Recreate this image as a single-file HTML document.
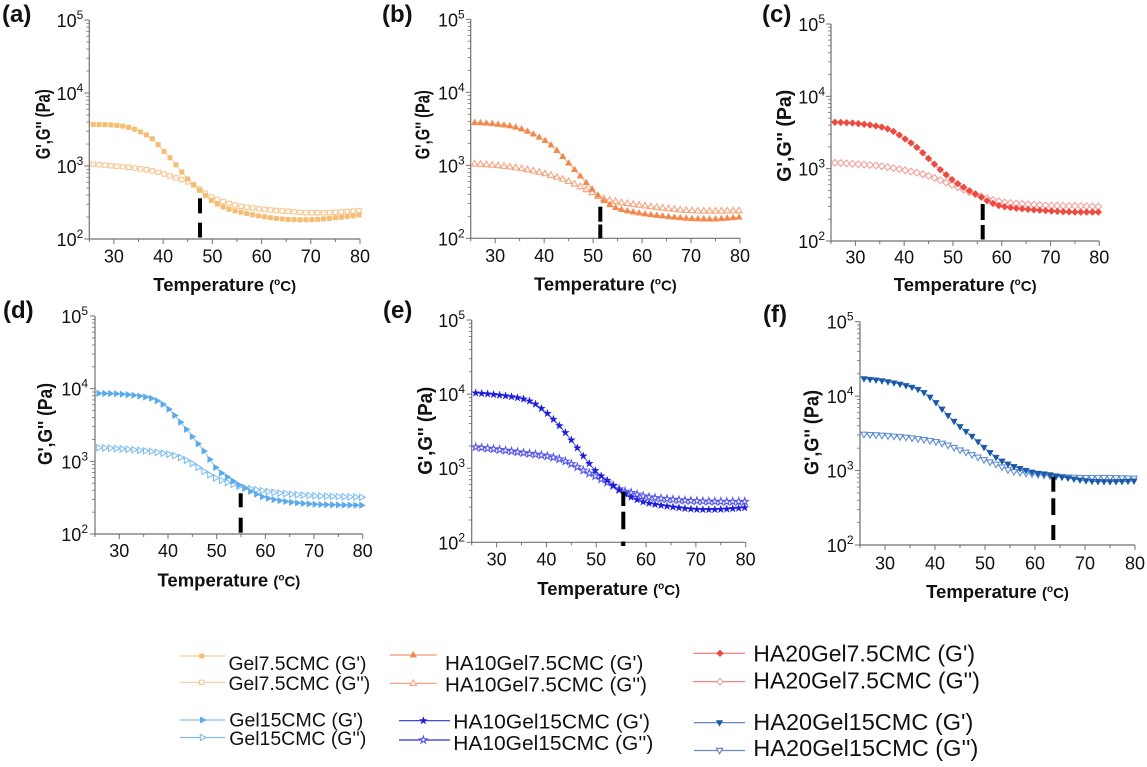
<!DOCTYPE html>
<html><head><meta charset="utf-8">
<style>
html,body{margin:0;padding:0;background:#fff;}
svg{display:block;}
text{font-family:"Liberation Sans",Arial,sans-serif;fill:#111;}
.t{font-size:18px;}
.b{font-weight:bold;}
</style></head>
<body>
<svg id="s" width="1147" height="767" viewBox="0 0 1147 767" xmlns="http://www.w3.org/2000/svg">
<rect width="1147" height="767" fill="#fff"/>
<g id="plots"></g>

<!-- panel labels -->
<text class="b" x="2" y="22" font-size="24">(a)</text>
<text class="b" x="382" y="22" font-size="24">(b)</text>
<text class="b" x="762" y="22" font-size="24">(c)</text>
<text class="b" x="3" y="318" font-size="24">(d)</text>
<text class="b" x="383" y="318" font-size="24">(e)</text>
<text class="b" x="763" y="322" font-size="24">(f)</text>

<!-- Panel a -->
<g class="t">
<text x="83.3" y="27" text-anchor="end">10<tspan font-size="12" dy="-8">5</tspan></text>
<text x="83.3" y="100" text-anchor="end">10<tspan font-size="12" dy="-8">4</tspan></text>
<text x="83.3" y="173" text-anchor="end">10<tspan font-size="12" dy="-8">3</tspan></text>
<text x="83.3" y="246" text-anchor="end">10<tspan font-size="12" dy="-8">2</tspan></text>
<text x="113.9" y="262.5" text-anchor="middle">30</text>
<text x="163.1" y="262.5" text-anchor="middle">40</text>
<text x="212.4" y="262.5" text-anchor="middle">50</text>
<text x="261.6" y="262.5" text-anchor="middle">60</text>
<text x="310.8" y="262.5" text-anchor="middle">70</text>
<text x="360" y="262.5" text-anchor="middle">80</text>
</g>
<text class="b" x="224.7" y="291" text-anchor="middle" font-size="18.5">Temperature <tspan font-size="15">(</tspan><tspan font-size="10" dy="-6">o</tspan><tspan font-size="15" dy="6">C)</tspan></text>
<text class="b" transform="translate(50,124.3) rotate(-90)" text-anchor="middle" font-size="20" textLength="70" lengthAdjust="spacingAndGlyphs">G',G'' (Pa)</text>

<!-- Panel b -->
<g class="t">
<text x="464.7" y="26.3" text-anchor="end">10<tspan font-size="12" dy="-8">5</tspan></text>
<text x="464.7" y="99.3" text-anchor="end">10<tspan font-size="12" dy="-8">4</tspan></text>
<text x="464.7" y="172.3" text-anchor="end">10<tspan font-size="12" dy="-8">3</tspan></text>
<text x="464.7" y="245.3" text-anchor="end">10<tspan font-size="12" dy="-8">2</tspan></text>
<text x="495.2" y="261.8" text-anchor="middle">30</text>
<text x="544.1" y="261.8" text-anchor="middle">40</text>
<text x="593.1" y="261.8" text-anchor="middle">50</text>
<text x="642.1" y="261.8" text-anchor="middle">60</text>
<text x="691" y="261.8" text-anchor="middle">70</text>
<text x="740" y="261.8" text-anchor="middle">80</text>
</g>
<text class="b" x="605.4" y="290.3" text-anchor="middle" font-size="18.5">Temperature <tspan font-size="15">(</tspan><tspan font-size="10" dy="-6">o</tspan><tspan font-size="15" dy="6">C)</tspan></text>
<text class="b" transform="translate(429.3,124.7) rotate(-90)" text-anchor="middle" font-size="20" textLength="69" lengthAdjust="spacingAndGlyphs">G',G'' (Pa)</text>

<!-- Panel c -->
<g class="t">
<text x="825" y="31" text-anchor="end">10<tspan font-size="12" dy="-8">5</tspan></text>
<text x="825" y="103.3" text-anchor="end">10<tspan font-size="12" dy="-8">4</tspan></text>
<text x="825" y="175.7" text-anchor="end">10<tspan font-size="12" dy="-8">3</tspan></text>
<text x="825" y="248" text-anchor="end">10<tspan font-size="12" dy="-8">2</tspan></text>
<text x="855.4" y="263.5" text-anchor="middle">30</text>
<text x="904.2" y="263.5" text-anchor="middle">40</text>
<text x="953" y="263.5" text-anchor="middle">50</text>
<text x="1001.7" y="263.5" text-anchor="middle">60</text>
<text x="1050.5" y="263.5" text-anchor="middle">70</text>
<text x="1099.3" y="263.5" text-anchor="middle">80</text>
</g>
<text class="b" x="965.2" y="291" text-anchor="middle" font-size="18.5">Temperature <tspan font-size="15">(</tspan><tspan font-size="10" dy="-6">o</tspan><tspan font-size="15" dy="6">C)</tspan></text>
<text class="b" transform="translate(791,135.8) rotate(-90)" text-anchor="middle" font-size="20" textLength="92" lengthAdjust="spacingAndGlyphs">G',G'' (Pa)</text>

<!-- Panel d -->
<g class="t">
<text x="88" y="323" text-anchor="end">10<tspan font-size="12" dy="-8">5</tspan></text>
<text x="88" y="395.7" text-anchor="end">10<tspan font-size="12" dy="-8">4</tspan></text>
<text x="88" y="468.3" text-anchor="end">10<tspan font-size="12" dy="-8">3</tspan></text>
<text x="88" y="541" text-anchor="end">10<tspan font-size="12" dy="-8">2</tspan></text>
<text x="119.3" y="557" text-anchor="middle">30</text>
<text x="168" y="557" text-anchor="middle">40</text>
<text x="216.7" y="557" text-anchor="middle">50</text>
<text x="265.4" y="557" text-anchor="middle">60</text>
<text x="314" y="557" text-anchor="middle">70</text>
<text x="362.7" y="557" text-anchor="middle">80</text>
</g>
<text class="b" x="228.9" y="586.5" text-anchor="middle" font-size="18.5">Temperature <tspan font-size="15">(</tspan><tspan font-size="10" dy="-6">o</tspan><tspan font-size="15" dy="6">C)</tspan></text>
<text class="b" transform="translate(52,424) rotate(-90)" text-anchor="middle" font-size="20" textLength="82" lengthAdjust="spacingAndGlyphs">G',G'' (Pa)</text>

<!-- Panel e -->
<g class="t">
<text x="465" y="327" text-anchor="end">10<tspan font-size="12" dy="-8">5</tspan></text>
<text x="465" y="401.1" text-anchor="end">10<tspan font-size="12" dy="-8">4</tspan></text>
<text x="465" y="475.2" text-anchor="end">10<tspan font-size="12" dy="-8">3</tspan></text>
<text x="465" y="549.3" text-anchor="end">10<tspan font-size="12" dy="-8">2</tspan></text>
<text x="496.6" y="565.3" text-anchor="middle">30</text>
<text x="546.4" y="565.3" text-anchor="middle">40</text>
<text x="596.2" y="565.3" text-anchor="middle">50</text>
<text x="646" y="565.3" text-anchor="middle">60</text>
<text x="695.9" y="565.3" text-anchor="middle">70</text>
<text x="745.7" y="565.3" text-anchor="middle">80</text>
</g>
<text class="b" x="608.7" y="595" text-anchor="middle" font-size="18.5">Temperature <tspan font-size="15">(</tspan><tspan font-size="10" dy="-6">o</tspan><tspan font-size="15" dy="6">C)</tspan></text>
<text class="b" transform="translate(432,430.8) rotate(-90)" text-anchor="middle" font-size="20" textLength="88" lengthAdjust="spacingAndGlyphs">G',G'' (Pa)</text>

<!-- Panel f -->
<g class="t">
<text x="853.5" y="328.7" text-anchor="end">10<tspan font-size="12" dy="-8">5</tspan></text>
<text x="853.5" y="403.1" text-anchor="end">10<tspan font-size="12" dy="-8">4</tspan></text>
<text x="853.5" y="477.6" text-anchor="end">10<tspan font-size="12" dy="-8">3</tspan></text>
<text x="853.5" y="552" text-anchor="end">10<tspan font-size="12" dy="-8">2</tspan></text>
<text x="885" y="569.5" text-anchor="middle">30</text>
<text x="935" y="569.5" text-anchor="middle">40</text>
<text x="985" y="569.5" text-anchor="middle">50</text>
<text x="1035" y="569.5" text-anchor="middle">60</text>
<text x="1085" y="569.5" text-anchor="middle">70</text>
<text x="1135" y="569.5" text-anchor="middle">80</text>
</g>
<text class="b" x="997.5" y="598" text-anchor="middle" font-size="18.5">Temperature <tspan font-size="15">(</tspan><tspan font-size="10" dy="-6">o</tspan><tspan font-size="15" dy="6">C)</tspan></text>
<text class="b" transform="translate(818.7,432.5) rotate(-90)" text-anchor="middle" font-size="20" textLength="85" lengthAdjust="spacingAndGlyphs">G',G'' (Pa)</text>

<!-- Legend text -->
<text x="228.5" y="670" font-size="19" textLength="138" lengthAdjust="spacingAndGlyphs">Gel7.5CMC (G')</text>
<text x="228.5" y="690" font-size="19" textLength="141.7" lengthAdjust="spacingAndGlyphs">Gel7.5CMC (G'')</text>
<text x="229.3" y="726.7" font-size="19" textLength="134" lengthAdjust="spacingAndGlyphs">Gel15CMC (G')</text>
<text x="229.3" y="745" font-size="19" textLength="137" lengthAdjust="spacingAndGlyphs">Gel15CMC (G'')</text>

<text x="445" y="670" font-size="20.5" textLength="198.3" lengthAdjust="spacingAndGlyphs">HA10Gel7.5CMC (G')</text>
<text x="445" y="691.7" font-size="20.5" textLength="202" lengthAdjust="spacingAndGlyphs">HA10Gel7.5CMC (G'')</text>
<text x="453.3" y="728.3" font-size="20.5" textLength="196.7" lengthAdjust="spacingAndGlyphs">HA10Gel15CMC (G')</text>
<text x="453.3" y="750" font-size="20.5" textLength="200" lengthAdjust="spacingAndGlyphs">HA10Gel15CMC (G'')</text>

<text x="753.3" y="661.7" font-size="23" textLength="221.7" lengthAdjust="spacingAndGlyphs">HA20Gel7.5CMC (G')</text>
<text x="753.3" y="688.3" font-size="23" textLength="226.7" lengthAdjust="spacingAndGlyphs">HA20Gel7.5CMC (G'')</text>
<text x="753.3" y="730" font-size="23" textLength="220" lengthAdjust="spacingAndGlyphs">HA20Gel15CMC (G')</text>
<text x="753.3" y="756" font-size="23" textLength="225" lengthAdjust="spacingAndGlyphs">HA20Gel15CMC (G'')</text>
</svg>
<script>
(function(){
var NS="http://www.w3.org/2000/svg";
var G=document.getElementById("plots");
function el(tag,attrs){var e=document.createElementNS(NS,tag);for(var k in attrs)e.setAttribute(k,attrs[k]);G.appendChild(e);return e;}
function interp(p,t){
  var n=p.length;
  if(t<=p[0][0])return p[0][1];
  if(t>=p[n-1][0])return p[n-1][1];
  var i=0;while(p[i+1][0]<t)i++;
  function m(k){
    if(k<=0)return (p[1][1]-p[0][1])/(p[1][0]-p[0][0]);
    if(k>=n-1)return (p[n-1][1]-p[n-2][1])/(p[n-1][0]-p[n-2][0]);
    return (p[k+1][1]-p[k-1][1])/(p[k+1][0]-p[k-1][0]);
  }
  var x0=p[i][0],y0=p[i][1],x1=p[i+1][0],y1=p[i+1][1],h=x1-x0,s=(t-x0)/h;
  var h00=2*s*s*s-3*s*s+1,h10=s*s*s-2*s*s+s,h01=-2*s*s*s+3*s*s,h11=s*s*s-s*s;
  return h00*y0+h10*h*m(i)+h01*y1+h11*h*m(i+1);
}
function shape(mk,x,y,s){
  var pts;
  switch(mk){
    case 'sq':pts=[[x-s,y-s],[x+s,y-s],[x+s,y+s],[x-s,y+s]];break;
    case 'tu':pts=[[x,y-s*1.2],[x+s*1.1,y+s*0.75],[x-s*1.1,y+s*0.75]];break;
    case 'td':pts=[[x,y+s*1.2],[x+s*1.1,y-s*0.75],[x-s*1.1,y-s*0.75]];break;
    case 'tr':pts=[[x+s*1.2,y],[x-s*0.75,y-s*1.1],[x-s*0.75,y+s*1.1]];break;
    case 'di':pts=[[x,y-s*1.25],[x+s*1.25,y],[x,y+s*1.25],[x-s*1.25,y]];break;
    case 'st':pts=[];for(var i=0;i<10;i++){var a=-Math.PI/2+i*Math.PI/5;var r=(i%2)?s*0.5:s*1.3;pts.push([x+r*Math.cos(a),y+r*Math.sin(a)]);}break;
  }
  return pts.map(function(q){return q[0].toFixed(2)+","+q[1].toFixed(2);}).join(" ");
}
var sizes={sq:2.3,tu:3.0,td:3.0,tr:3.0,di:2.8,st:3.1};
function marker(mk,x,y,filled,col){
  var s=sizes[mk];
  if(filled) el("polygon",{points:shape(mk,x,y,s),fill:col,stroke:col,"stroke-width":0.4});
  else el("polygon",{points:shape(mk,x,y,s*0.95),fill:"#fff",stroke:col,"stroke-width":1.1});
}
var P=[
{X0:89.3,X1:360,YT:20,YB:239,m:'sq',c1:'#F5BD72',c2:'#F7C690',dx:200,dash:[[198.3,213.3],[222.7,237.5]],
 g1:[[25,3.57],[30,3.56],[33,3.53],[35,3.48],[37,3.41],[38.2,3.35],[39.4,3.26],[40.7,3.16],[42,3.07],[43.1,2.97],[44.3,2.88],[45.5,2.785],[46.7,2.71],[48,2.63],[50,2.52],[52.5,2.43],[55,2.38],[60,2.31],[65,2.27],[70,2.265],[75,2.29],[80,2.33]],
 g2:[[25,3.03],[30,3.0],[35,2.965],[38.7,2.92],[42,2.85],[45.5,2.77],[47.5,2.68],[50,2.57],[55,2.46],[60,2.41],[65,2.38],[70,2.36],[75,2.365],[80,2.39]]},
{X0:470.7,X1:740,YT:19.3,YB:238.3,m:'tu',c1:'#F2884C',c2:'#F5A37C',dx:600.3,dash:[[206.7,221.7],[224.5,238.3]],
 g1:[[25,3.59],[30,3.566],[35,3.507],[40,3.347],[42.5,3.21],[45,3.03],[47.5,2.845],[50,2.66],[52.5,2.50],[55,2.41],[60,2.34],[65,2.30],[70,2.27],[75,2.265],[80,2.29]],
 g2:[[25,3.025],[30,3.0],[35,2.96],[40,2.89],[45,2.78],[50,2.62],[51.5,2.56],[55,2.50],[60,2.45],[65,2.41],[70,2.38],[75,2.375],[80,2.38]]},
{X0:831,X1:1099.3,YT:24,YB:241,m:'di',c1:'#EF4A40',c2:'#F4A09C',dx:982.7,dash:[[204,220],[225,239.5]],
 g1:[[25,3.645],[30,3.627],[35,3.58],[37.5,3.525],[40,3.42],[42.5,3.30],[45,3.14],[47.5,2.98],[50,2.84],[52.5,2.73],[55,2.636],[57.5,2.54],[60,2.48],[65,2.44],[70,2.415],[75,2.40],[80,2.40]],
 g2:[[25,3.085],[30,3.064],[35,3.037],[40,2.98],[45,2.90],[50,2.77],[55,2.636],[60,2.54],[65,2.51],[70,2.49],[75,2.485],[80,2.475]]},
{X0:95,X1:362.7,YT:316,YB:534,m:'tr',c1:'#5BAAEB',c2:'#80BEF0',dx:240.7,dash:[[493.3,507.3],[517.7,532.7]],
 g1:[[25,3.937],[30,3.927],[35,3.89],[37.5,3.844],[40,3.73],[42.5,3.546],[45,3.34],[47.5,3.133],[50,2.90],[52.5,2.77],[55,2.66],[57.5,2.57],[60,2.50],[65,2.44],[70,2.41],[75,2.40],[80,2.395]],
 g2:[[25,3.19],[30,3.174],[35,3.147],[40,3.10],[42.5,3.055],[45,2.97],[47.5,2.858],[50,2.766],[55,2.65],[60,2.59],[65,2.55],[70,2.527],[75,2.515],[80,2.505]]},
{X0:471.7,X1:745.7,YT:320,YB:542.3,m:'st',c1:'#1C1CDC',c2:'#5858E6',dx:623.3,dash:[[491.7,506],[511.7,529.3],[541.5,546]],
 g1:[[25,4.02],[30,3.99],[35,3.94],[37.5,3.876],[40,3.75],[42.5,3.58],[45,3.38],[47.5,3.156],[50,2.954],[52.5,2.82],[55,2.684],[57.5,2.594],[60,2.535],[65,2.48],[70,2.445],[75,2.445],[80,2.468]],
 g2:[[25,3.29],[30,3.255],[35,3.21],[40,3.165],[42.5,3.125],[45,3.057],[47.5,2.967],[50,2.886],[52.5,2.796],[55,2.706],[57.5,2.66],[60,2.616],[65,2.58],[70,2.558],[75,2.55],[80,2.55]]},
{X0:860,X1:1135,YT:321.7,YB:545,m:'td',c1:'#1A58AA',c2:'#6090D0',dx:1053.3,dash:[[476.7,491.7],[498.3,515],[525,540]],
 g1:[[25,4.24],[30,4.20],[35,4.127],[37.5,4.06],[40,3.926],[42.5,3.746],[45,3.59],[47.5,3.455],[50,3.30],[52.5,3.164],[55,3.075],[57.5,3.017],[60,2.97],[62.5,2.95],[65,2.918],[70,2.864],[75,2.85],[80,2.86]],
 g2:[[25,3.49],[30,3.47],[35,3.44],[40,3.39],[42.5,3.343],[45,3.276],[47.5,3.21],[50,3.14],[52.5,3.075],[55,3.0],[57.5,2.97],[60,2.95],[65,2.918],[70,2.905],[75,2.905],[80,2.896]]}
];
P.forEach(function(p){
  function X(t){return p.X0+(t-25)/55*(p.X1-p.X0);}
  function Y(l){return p.YB-(l-2)/3*(p.YB-p.YT);}
  var ax="#707070";
  el("line",{x1:p.X0,y1:p.YT,x2:p.X0,y2:p.YB,stroke:ax,"stroke-width":1.2});
  el("line",{x1:p.X0-0.6,y1:p.YB,x2:p.X1,y2:p.YB,stroke:ax,"stroke-width":1.2});
  for(var n=2;n<=5;n++){var y=Y(n);el("line",{x1:p.X0-5,y1:y,x2:p.X0,y2:y,stroke:ax,"stroke-width":1});}
  for(var n2=2;n2<5;n2++)for(var k=2;k<=9;k++){var yy=Y(n2+Math.log10(k));el("line",{x1:p.X0-3,y1:yy,x2:p.X0,y2:yy,stroke:ax,"stroke-width":0.8});}
  for(var t=25;t<=80;t+=5){var x=X(t);var L=(t%10==0)?5:3;el("line",{x1:x,y1:p.YB,x2:x,y2:p.YB+L,stroke:ax,"stroke-width":1});}
  var T=[];for(var tt=25.8;tt<=80.01;tt+=1.2)T.push(tt);
  var pts1=T.map(function(t){return [X(t),Y(interp(p.g1,t))];});
  var pts2=T.map(function(t){return [X(t),Y(interp(p.g2,t))];});
  function pl(a){return a.map(function(q){return q[0].toFixed(2)+","+q[1].toFixed(2);}).join(" ");}
  el("polyline",{points:pl(pts2),fill:"none",stroke:p.c2,"stroke-width":0.7});
  el("polyline",{points:pl(pts1),fill:"none",stroke:p.c1,"stroke-width":0.7});
  pts2.forEach(function(q){marker(p.m,q[0],q[1],false,p.c2);});
  pts1.forEach(function(q){marker(p.m,q[0],q[1],true,p.c1);});
  p.dash.forEach(function(d){el("rect",{x:p.dx-2,y:d[0],width:4,height:d[1]-d[0],fill:"#000"});});
});
// legend
var LG=[
 {x1:180,x2:225,mx:201.7,y:656,lc:'#F8CA9C',m:'sq',c:'#F5BD72',f:true},
 {x1:180,x2:225,mx:201.7,y:682.3,lc:'#F8CA9C',m:'sq',c:'#F7C690',f:false},
 {x1:180,x2:225,mx:202.5,y:720,lc:'#86BCEC',m:'tr',c:'#5BAAEB',f:true},
 {x1:180,x2:225,mx:202.5,y:737.5,lc:'#86BCEC',m:'tr',c:'#80BEF0',f:false},
 {x1:390,x2:436.7,mx:413.3,y:655,lc:'#F39A76',m:'tu',c:'#F2884C',f:true},
 {x1:390,x2:436.7,mx:413.3,y:683.3,lc:'#F39A76',m:'tu',c:'#F5A37C',f:false},
 {x1:399,x2:450,mx:423.3,y:720.7,lc:'#3030D8',m:'st',c:'#1C1CDC',f:true},
 {x1:399,x2:450,mx:423.3,y:740,lc:'#3030D8',m:'st',c:'#5858E6',f:false},
 {x1:693.3,x2:745,mx:720,y:653.3,lc:'#F27272',m:'di',c:'#EF4A40',f:true},
 {x1:693.3,x2:745,mx:720,y:681.7,lc:'#F27272',m:'di',c:'#F4A09C',f:false},
 {x1:694,x2:745,mx:719.5,y:722.7,lc:'#5078B8',m:'td',c:'#1A58AA',f:true},
 {x1:694,x2:745,mx:719.5,y:750.5,lc:'#6A88BE',m:'td',c:'#6080C0',f:false}
];
LG.forEach(function(l){
  el("line",{x1:l.x1,y1:l.y,x2:l.x2,y2:l.y,stroke:l.lc,"stroke-width":1.2});
  marker(l.m,l.mx,l.y,l.f,l.c);
});
})();
</script>
</body></html>
